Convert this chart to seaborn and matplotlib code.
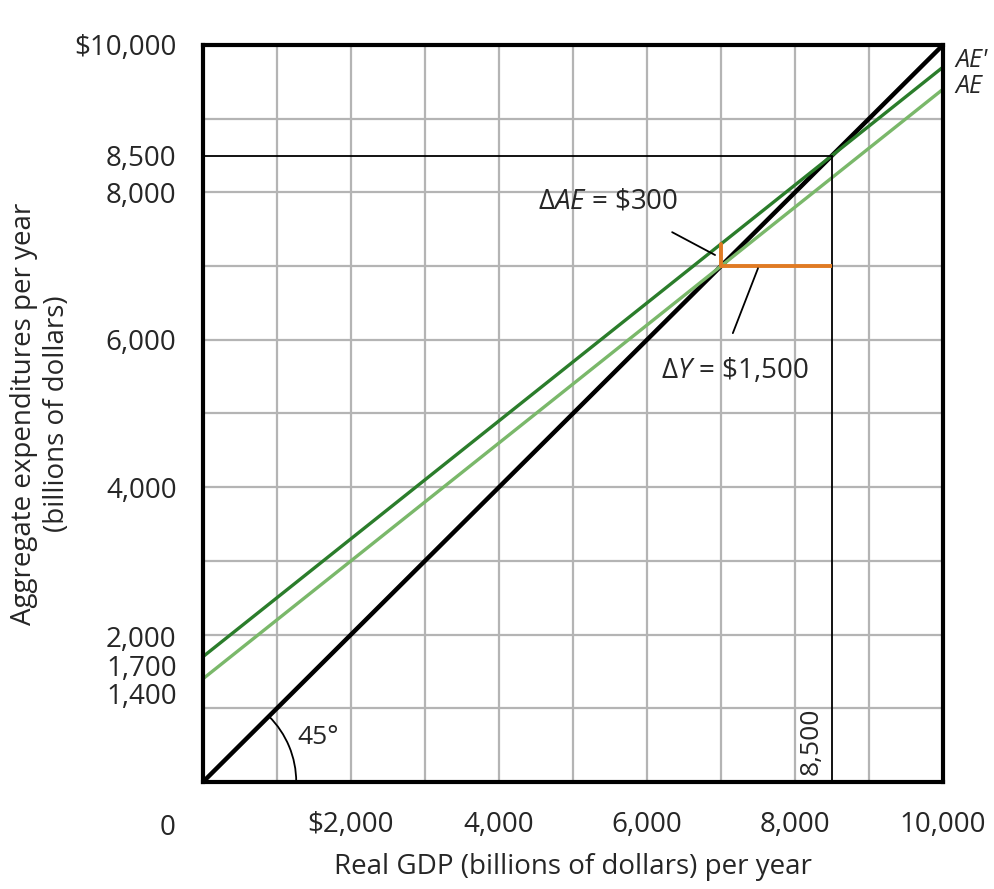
import numpy as np
import pandas as pd
import seaborn as sns
import matplotlib.pyplot as plt
import matplotlib.transforms as mtransforms
from matplotlib.patches import Arc

# data (billions of dollars)
gdp = [0, 10000]
ae_old = [1400, 9400]        # AE
ae_new = [1700, 9700]        # AE'
line_45 = [0, 10000]
eq_old = 7000
eq_new = 8500
delta_ae = 300

x_ticks = [2000, 4000, 6000, 8000, 10000]
x_labels = ["$2,000", "4,000", "6,000", "8,000", "10,000"]
y_ticks = [1400, 1700, 2000, 4000, 6000, 8000, 8500, 10000]
y_labels = ["1,400", "1,700", "2,000", "4,000", "6,000", "8,000", "8,500", "$10,000"]
grid_steps = list(range(1000, 10000, 1000))

sns.set_style("white")
plt.rcParams["font.family"] = ["Open Sans", "DejaVu Sans"]
plt.rcParams["mathtext.fontset"] = "custom"
plt.rcParams["mathtext.rm"] = "Open Sans"
plt.rcParams["mathtext.it"] = "Open Sans:italic"

fig = plt.figure(figsize=(9.94, 8.89), dpi=100)
ax = fig.add_axes([0.2042, 0.1204, 0.7445, 0.829])

df = pd.DataFrame({"gdp": gdp, "AE": ae_old, "AE'": ae_new, "45": line_45})

# grid every 1,000
for g in grid_steps:
    ax.axvline(g, color="#b4b4b4", linewidth=1.6, zorder=0)
    ax.axhline(g, color="#b4b4b4", linewidth=1.6, zorder=0)

sns.lineplot(data=df, x="gdp", y="45", color="black", linewidth=3.2, ax=ax)
sns.lineplot(data=df, x="gdp", y="AE", color="#7ab86a", linewidth=2.4, ax=ax)
sns.lineplot(data=df, x="gdp", y="AE'", color="#2b7d2b", linewidth=2.4, ax=ax)

# new equilibrium guides
ax.plot([0, eq_new], [eq_new, eq_new], color="black", linewidth=1.3)
ax.plot([eq_new, eq_new], [0, eq_new], color="black", linewidth=1.3)

# change in AE and change in Y
ax.plot([eq_old, eq_old], [eq_old, eq_old + delta_ae], color="#e07b24", linewidth=2.8)
ax.plot([eq_old, eq_new], [eq_old, eq_old], color="#e07b24", linewidth=2.8,
        solid_capstyle="butt")

# leader lines and labels
ax.plot([6340, 6920], [7460, 7150], color="black", linewidth=1.3)
ax.text(5480, 7870, r"$\Delta\mathit{AE}$ = \$300", fontsize=20, ha="center", va="center")
ax.plot([7500, 7160], [6970, 6090], color="black", linewidth=1.3)
ax.text(7180, 5580, r"$\Delta\mathit{Y}$ = \$1,500", fontsize=20, ha="center", va="center")

# 45 degree arc
ax.add_patch(Arc((0, 0), 2520, 2520, theta1=0, theta2=45, color="black", linewidth=1.3))
ax.text(1270, 610, "45°", fontsize=19, ha="left", va="center")

ax.text(8220, 545, "8,500", fontsize=19, rotation=90, ha="center", va="center")

ax.text(10170, 9790, "AE'", fontsize=18, style="italic", ha="left", va="center",
        clip_on=False)
ax.text(10170, 9430, "AE", fontsize=18, style="italic", ha="left", va="center",
        clip_on=False)

ax.set_xlim(0, 10000)
ax.set_ylim(0, 10000)
ax.set_xticks(x_ticks)
ax.set_xticklabels(x_labels, fontsize=20)
ax.set_yticks(y_ticks)
ax.set_yticklabels(y_labels, fontsize=20)
ax.tick_params(which="both", length=0)
ax.tick_params(axis="x", pad=21)
ax.tick_params(axis="y", pad=19)

# the low labels are spread apart a little in the original
shift = {"2,000": -2, "1,700": -9, "1,400": -15}
for lab in ax.get_yticklabels():
    dy = shift.get(lab.get_text(), 0)
    if dy:
        lab.set_transform(lab.get_transform() +
                          mtransforms.ScaledTranslation(0, dy / 100, fig.dpi_scale_trans))

ax.text(-480, -620, "0", fontsize=20, ha="center", va="center", clip_on=False)

ax.set_xlabel("Real GDP (billions of dollars) per year", fontsize=20, labelpad=10)
ax.set_ylabel("Aggregate expenditures per year\n(billions of dollars)", fontsize=20,
              labelpad=2, linespacing=1.25)

for s in ax.spines.values():
    s.set_visible(True)
    s.set_color("black")
    s.set_linewidth(3)
    s.set_zorder(5)

fig.savefig("out.png", dpi=100)
